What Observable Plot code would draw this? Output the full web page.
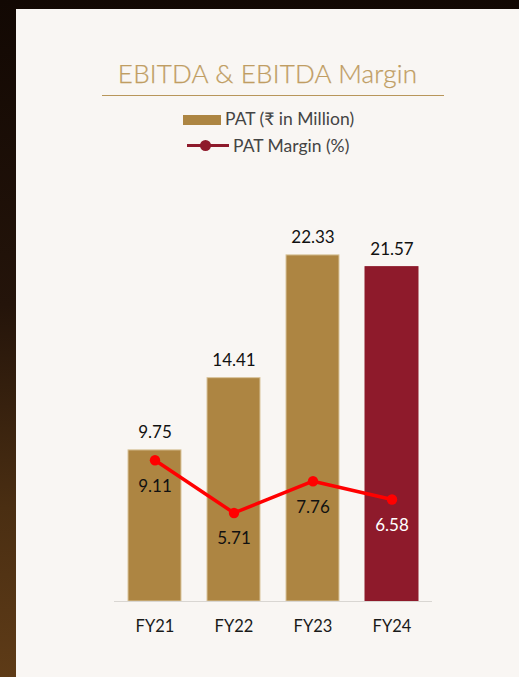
<!DOCTYPE html>
<html>
<head>
<meta charset="utf-8">
<script src="https://cdn.jsdelivr.net/npm/d3@7"></script>
<script src="https://cdn.jsdelivr.net/npm/@observablehq/plot@0.6"></script>
<style>
  html, body { margin: 0; padding: 0; width: 519px; height: 677px; overflow: hidden; }
  body { background: linear-gradient(to bottom, #120803 0%, #24140a 45%, #4a2e12 75%, #5e3b17 100%); position: relative; font-family: Lato, "Noto Sans", sans-serif; }
  #card { position: absolute; left: 16px; top: 9px; width: 503px; height: 668px; background: #f9f6f3; }
  #title { position: absolute; left: 0; width: 100%; top: 48px; text-align: center; font-size: 26px; font-weight: 300; color: #c09d62; letter-spacing: 0.2px; -webkit-text-stroke: 0.25px #c09d62; }
  #rule { position: absolute; left: 86px; width: 342px; top: 86px; height: 0; border-top: 1.3px solid #b8965a; }
  .leg { position: absolute; font-size: 17.5px; color: #444; white-space: nowrap; }
  #sw1 { position: absolute; left: 167px; top: 106px; width: 38px; height: 10px; background: #ad8542; }
  #sw2line { position: absolute; left: 171px; top: 135px; width: 42px; height: 3px; background: #8e1a2b; }
  #sw2dot { position: absolute; left: 184px; top: 131px; width: 11px; height: 11px; border-radius: 50%; background: #8e1a2b; }
  #chart { position: absolute; left: 0; top: 161px; }
</style>
</head>
<body>
<div id="card">
  <div id="title">EBITDA &amp; EBITDA Margin</div>
  <div id="rule"></div>
  <div id="sw1"></div>
  <div class="leg" style="left:209px; top:99px;">PAT (₹ in Million)</div>
  <div id="sw2line"></div>
  <div id="sw2dot"></div>
  <div class="leg" style="left:217px; top:126px;">PAT Margin (%)</div>
  <div id="chart"></div>
</div>
<script>
const years = ["FY21", "FY22", "FY23", "FY24"];
const pat = [9.75, 14.41, 22.33, 21.57];
const patMargin = [9.11, 5.71, 7.76, 6.58];
const barColors = ["#ad8542", "#ad8542", "#ad8542", "#8e1a2b"];
const marginLabelColors = ["#111", "#111", "#111", "#ffffff"];

const rows = years.map((y, i) => ({year: y, pat: pat[i], margin: patMargin[i], color: barColors[i], lc: marginLabelColors[i]}));

const chart = Plot.plot({
  width: 503,
  height: 480,
  marginLeft: 98,
  marginRight: 87,
  marginTop: 43.5,
  marginBottom: 49,
  style: {background: "transparent", fontFamily: "Lato, 'Noto Sans', sans-serif"},
  x: {type: "band", domain: years, paddingInner: 0.333, paddingOuter: 0.176, label: null},
  y: {domain: [0, 25], axis: null},
  marks: [
    Plot.barY(rows, {x: "year", y: "pat", fill: d => d.color, stroke: d => d.year === "FY24" ? d.color : "#d9c49c", strokeWidth: 1}),
    Plot.ruleY([0], {stroke: "#d9d6d2", strokeWidth: 1.2}),
    Plot.text(rows, {x: "year", y: "pat", text: d => d.pat.toFixed(2), dy: -18, fontSize: 17, fill: "#111"}),
    Plot.line(rows, {x: "year", y: "margin", stroke: "#ff0000", strokeWidth: 3.5}),
    Plot.dot(rows, {x: "year", y: "margin", r: 5.2, fill: "#ff0000"}),
    Plot.text(rows, {x: "year", y: "margin", text: d => d.margin.toFixed(2), dy: 26, fontSize: 17, fill: d => d.lc}),
    Plot.axisX({tickSize: 0, tickPadding: 19, fontSize: 16.5, color: "#1a1a1a", label: null})
  ]
});
document.getElementById("chart").appendChild(chart);
</script>
</body>
</html>
